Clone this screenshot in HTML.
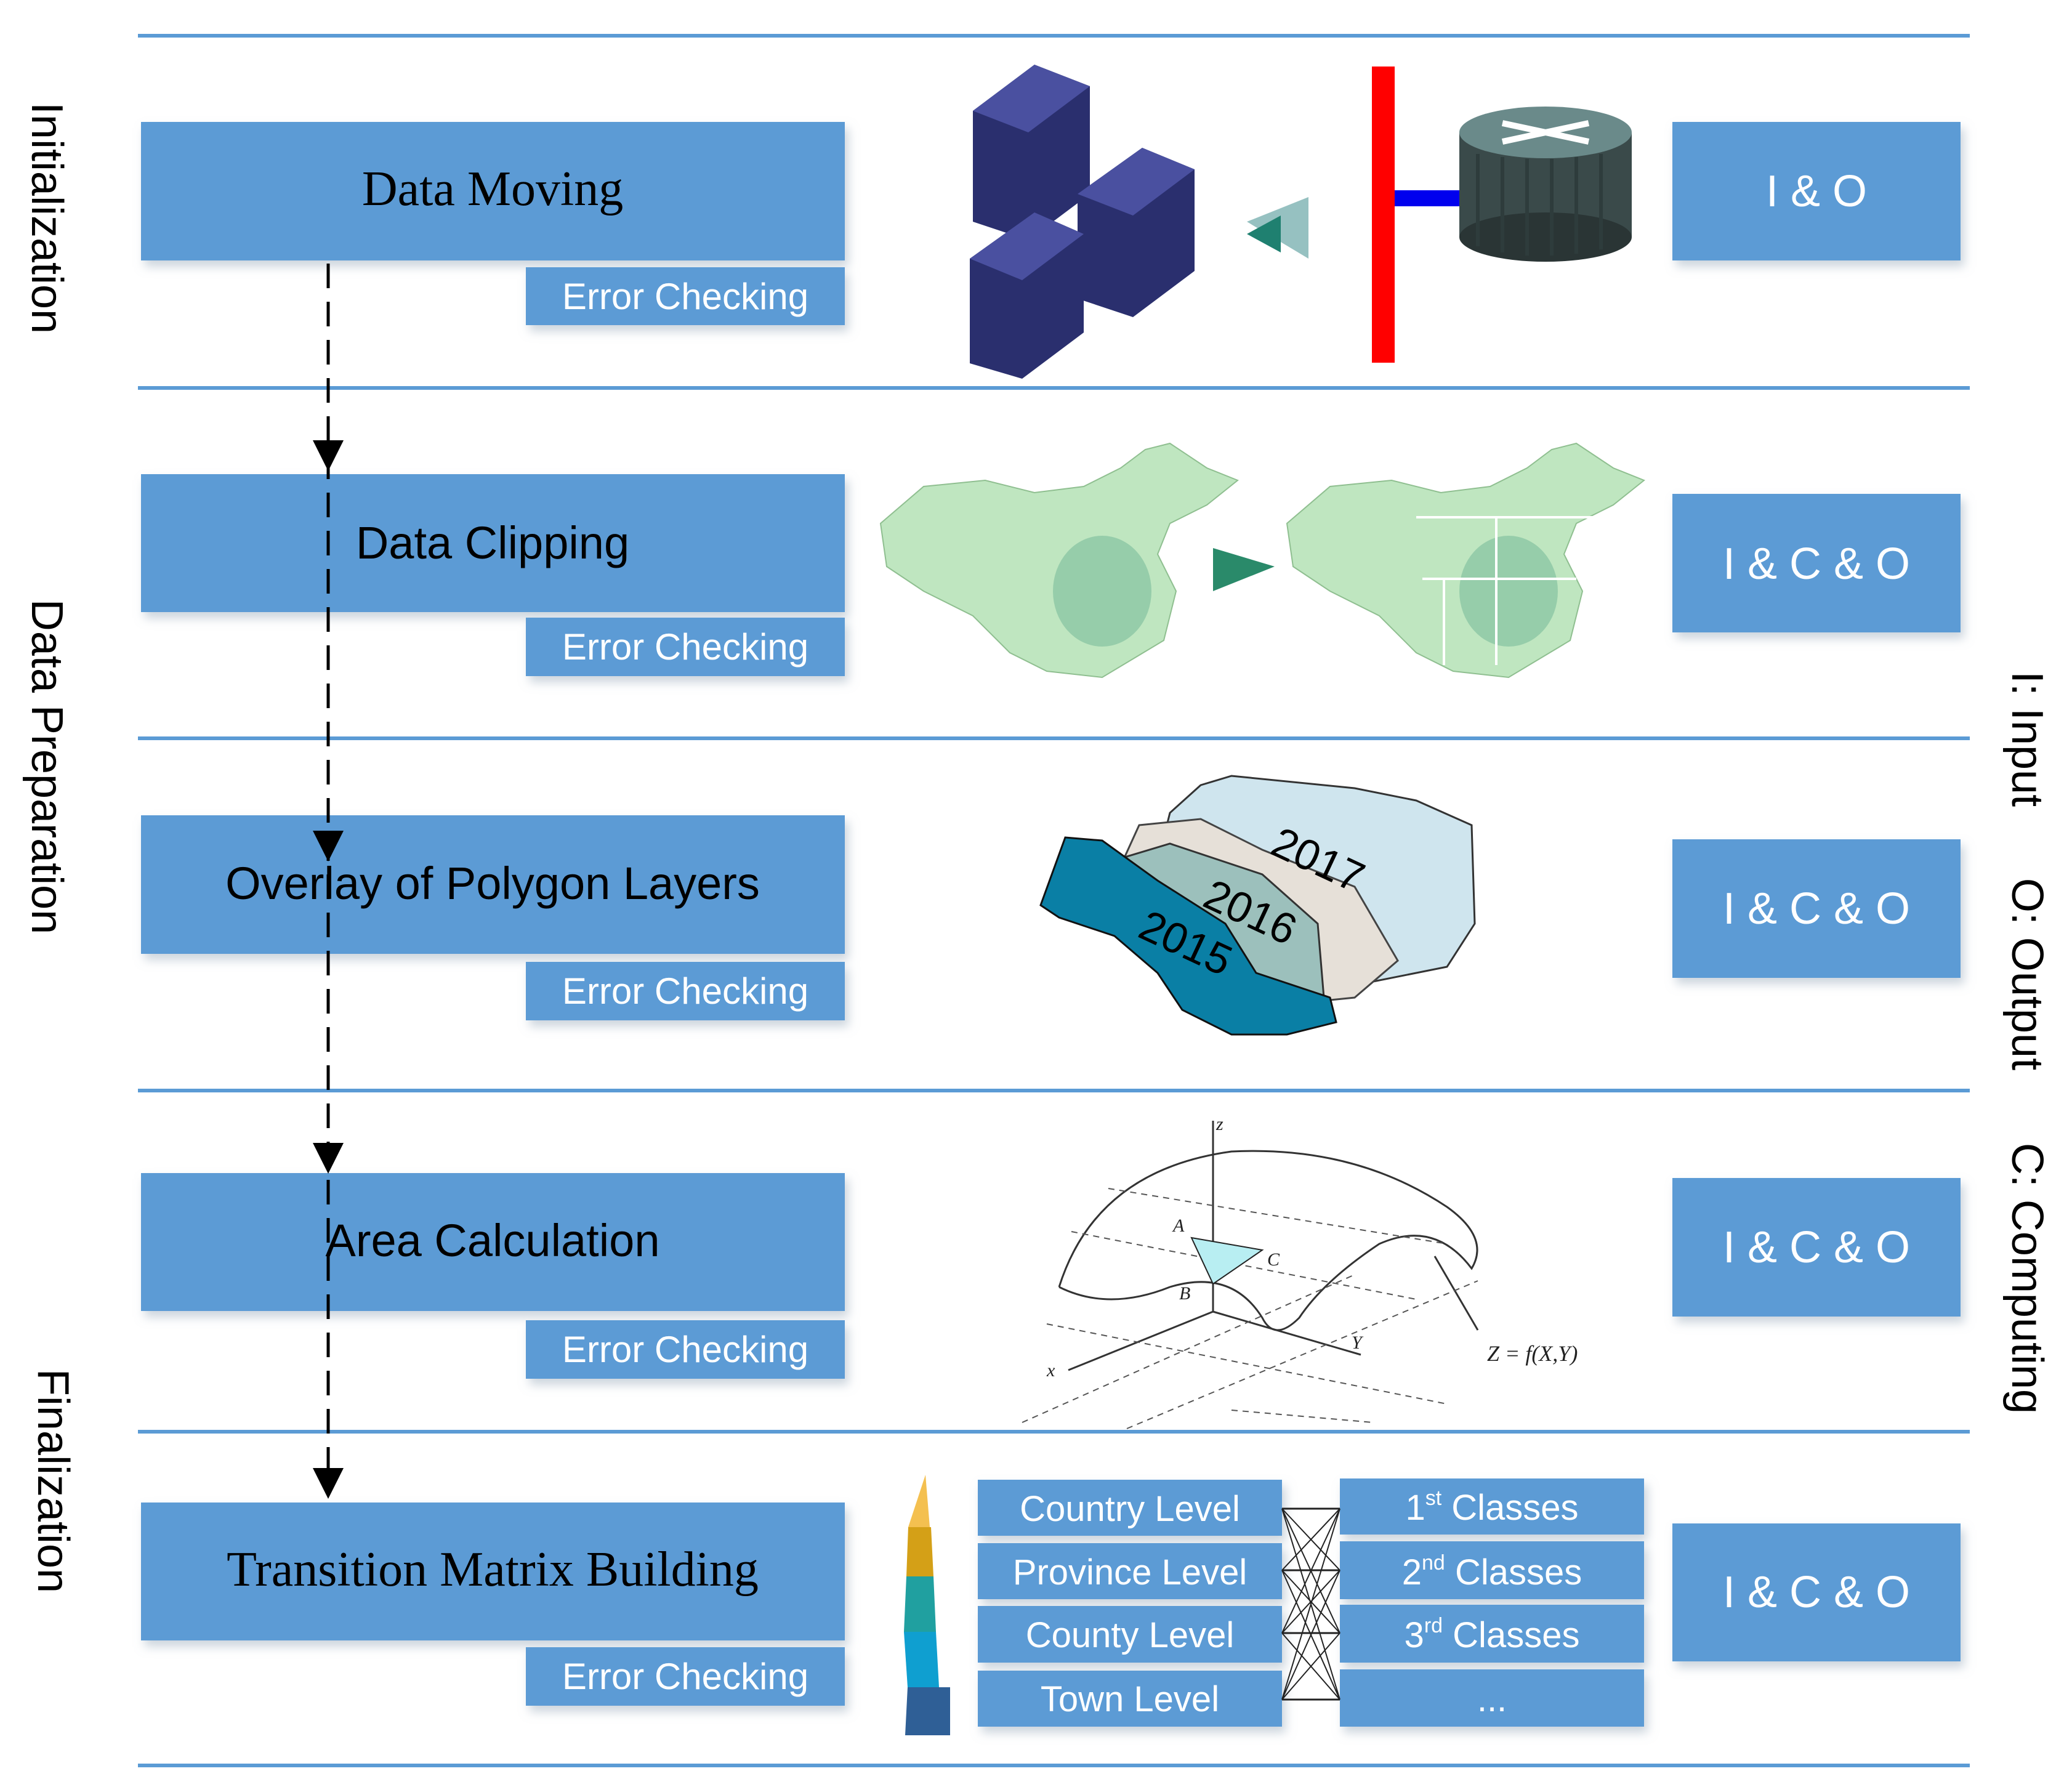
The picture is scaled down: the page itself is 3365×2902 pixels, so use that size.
<!DOCTYPE html>
<html><head><meta charset="utf-8"><style>
html,body{margin:0;padding:0;background:#fff}
svg{display:block}
.box{fill:#5b9bd5}
.t{font-family:"Liberation Sans",sans-serif;fill:#000}
.w{font-family:"Liberation Sans",sans-serif;fill:#fff}
</style></head><body>
<svg width="3365" height="2902" viewBox="0 0 3365 2902" xmlns="http://www.w3.org/2000/svg">
<defs>
<filter id="sh" x="-5%" y="-10%" width="115%" height="140%"><feDropShadow dx="6" dy="10" stdDeviation="8" flood-color="#9ab" flood-opacity="0.5"/></filter>
</defs>
<g stroke="#5b9bd5" stroke-width="6">
<line x1="224" y1="58" x2="3199" y2="58"/><line x1="224" y1="630" x2="3199" y2="630"/>
<line x1="224" y1="1199" x2="3199" y2="1199"/><line x1="224" y1="1771" x2="3199" y2="1771"/>
<line x1="224" y1="2325" x2="3199" y2="2325"/><line x1="224" y1="2867" x2="3199" y2="2867"/>
</g>
<g class="t" font-size="72" text-anchor="middle">
<text transform="translate(52,354) rotate(90)">Initialization</text>
<text transform="translate(52,1245) rotate(90)">Data Preparation</text>
<text transform="translate(62,2405) rotate(90)">Finalization</text>
<text transform="translate(3268,1200) rotate(90)">I: Input</text>
<text transform="translate(3268,1582) rotate(90)">O: Output</text>
<text transform="translate(3268,2076) rotate(90)">C: Computing</text>
</g>
<g filter="url(#sh)">
<rect class="box" x="229" y="198" width="1143" height="225"/>
<rect class="box" x="229" y="770" width="1143" height="224"/>
<rect class="box" x="229" y="1324" width="1143" height="225"/>
<rect class="box" x="229" y="1905" width="1143" height="224"/>
<rect class="box" x="229" y="2440" width="1143" height="224"/>
<rect class="box" x="854" y="434" width="518" height="94"/>
<rect class="box" x="854" y="1003" width="518" height="95"/>
<rect class="box" x="854" y="1562" width="518" height="95"/>
<rect class="box" x="854" y="2144" width="518" height="95"/>
<rect class="box" x="854" y="2675" width="518" height="95"/>
<rect class="box" x="2716" y="198" width="468" height="225"/>
<rect class="box" x="2716" y="802" width="468" height="225"/>
<rect class="box" x="2716" y="1363" width="468" height="225"/>
<rect class="box" x="2716" y="1913" width="468" height="225"/>
<rect class="box" x="2716" y="2474" width="468" height="224"/>
<rect class="box" x="1588" y="2403" width="494" height="91"/>
<rect class="box" x="1588" y="2506" width="494" height="91"/>
<rect class="box" x="1588" y="2608" width="494" height="92"/>
<rect class="box" x="1588" y="2713" width="494" height="91"/>
<rect class="box" x="2176" y="2401" width="494" height="91"/>
<rect class="box" x="2176" y="2503" width="494" height="94"/>
<rect class="box" x="2176" y="2606" width="494" height="94"/>
<rect class="box" x="2176" y="2711" width="494" height="93"/>
</g>
<g class="t" font-size="74" text-anchor="middle">
<text x="800" y="333" font-family="Liberation Serif,serif" font-size="80">Data Moving</text>
<text x="800" y="907">Data Clipping</text>
<text x="800" y="1460">Overlay of Polygon Layers</text>
<text x="800" y="2040">Area Calculation</text>
<text x="800" y="2575" font-family="Liberation Serif,serif" font-size="80">Transition Matrix Building</text>
</g>
<g class="w" font-size="60" text-anchor="middle">
<text x="1113" y="502">Error Checking</text><text x="1113" y="1071">Error Checking</text>
<text x="1113" y="1630">Error Checking</text><text x="1113" y="2212">Error Checking</text>
<text x="1113" y="2743">Error Checking</text>
</g>
<g class="w" font-size="72" text-anchor="middle">
<text x="2950" y="335">I &amp; O</text><text x="2950" y="940">I &amp; C &amp; O</text>
<text x="2950" y="1500">I &amp; C &amp; O</text><text x="2950" y="2050">I &amp; C &amp; O</text>
<text x="2950" y="2610">I &amp; C &amp; O</text>
</g>
<g class="w" font-size="58" text-anchor="middle">
<text x="1835" y="2470">Country Level</text><text x="1835" y="2573">Province Level</text>
<text x="1835" y="2675">County Level</text><text x="1835" y="2779">Town Level</text>
<text x="2423" y="2468">1<tspan font-size="34" dy="-24">st</tspan><tspan dy="24"> Classes</tspan></text>
<text x="2423" y="2573">2<tspan font-size="34" dy="-24">nd</tspan><tspan dy="24"> Classes</tspan></text>
<text x="2423" y="2675">3<tspan font-size="34" dy="-24">rd</tspan><tspan dy="24"> Classes</tspan></text>
<text x="2423" y="2779">...</text>
</g>
<line x1="533" y1="428" x2="533" y2="2400" stroke="#000" stroke-width="5" stroke-dasharray="40,22"/>
<g fill="#000">
<path d="M508,715 L558,715 L533,765 z"/><path d="M508,1349 L558,1349 L533,1399 z"/>
<path d="M508,1856 L558,1856 L533,1906 z"/><path d="M508,2384 L558,2384 L533,2434 z"/>
</g>
<g stroke="#222" stroke-width="3" fill="none">
<line x1="2082" y1="2450" x2="2176" y2="2450"/><line x1="2082" y1="2550" x2="2176" y2="2550"/>
<line x1="2082" y1="2652" x2="2176" y2="2652"/><line x1="2082" y1="2760" x2="2176" y2="2760"/>
<path d="M2082,2450 L2176,2550 M2082,2450 L2176,2652 M2082,2450 L2176,2760 M2082,2550 L2176,2450 M2082,2550 L2176,2652 M2082,2550 L2176,2760 M2082,2652 L2176,2450 M2082,2652 L2176,2550 M2082,2652 L2176,2760 M2082,2760 L2176,2450 M2082,2760 L2176,2550 M2082,2760 L2176,2652" stroke-width="2"/>
</g>
<polygon points="1503,2395 1510,2480 1475,2480" fill="#f4c050"/>
<polygon points="1475,2480 1512,2480 1516,2560 1472,2560" fill="#d4a017"/>
<polygon points="1472,2560 1516,2560 1520,2650 1468,2650" fill="#20a0a0"/>
<polygon points="1468,2650 1520,2650 1525,2740 1474,2740" fill="#0f9fd0"/>
<polygon points="1474,2740 1525,2740 1543,2740 1543,2818 1470,2818" fill="#2f5f96"/>
<g>
<polygon points="1580,180 1680,105 1770,140 1770,315 1670,390 1580,360" fill="#2a2f6e"/>
<polygon points="1580,180 1680,105 1770,140 1670,215" fill="#4a50a0"/>
<polygon points="1750,315 1855,240 1940,275 1940,440 1840,515 1750,485" fill="#2a2f6e"/>
<polygon points="1750,315 1855,240 1940,275 1840,350" fill="#4a50a0"/>
<polygon points="1575,420 1680,345 1760,380 1760,540 1660,615 1575,590" fill="#2a2f6e"/>
<polygon points="1575,420 1680,345 1760,380 1660,455" fill="#4a50a0"/>
</g>
<polygon points="2025,360 2125,320 2125,420" fill="#6aa6a6" opacity="0.7"/>
<path d="M2025,380 L2080,350 L2080,410 z" fill="#1f8070"/>
<rect x="2228" y="108" width="37" height="481" fill="#ff0000"/>
<rect x="2265" y="309" width="105" height="26" fill="#0000ee"/>
<rect x="2370" y="215" width="280" height="170" fill="#3a4a4a"/>
<ellipse cx="2510" cy="385" rx="140" ry="40" fill="#2a3535"/>
<ellipse cx="2510" cy="215" rx="140" ry="42" fill="#6a8a8a"/>
<g stroke="#2e3c3c" stroke-width="6">
<line x1="2400" y1="250" x2="2400" y2="400"/><line x1="2440" y1="255" x2="2440" y2="410"/><line x1="2480" y1="258" x2="2480" y2="415"/>
<line x1="2520" y1="258" x2="2520" y2="415"/><line x1="2560" y1="255" x2="2560" y2="412"/><line x1="2600" y1="250" x2="2600" y2="405"/>
</g>
<path d="M2440,200 L2580,230 M2440,230 L2580,200" stroke="#fff" stroke-width="10"/>
<g fill="#bfe6c0" stroke="#8fbf90" stroke-width="2">
<path d="M1430,850 L1500,790 L1600,780 L1680,800 L1760,790 L1820,760 L1860,730 L1900,720 L1960,760 L2010,780 L1960,820 L1900,850 L1880,900 L1910,960 L1890,1040 L1840,1070 L1790,1100 L1700,1090 L1640,1060 L1580,1000 L1500,960 L1440,920 z"/>
<path d="M2090,850 L2160,790 L2260,780 L2340,800 L2420,790 L2480,760 L2520,730 L2560,720 L2620,760 L2670,780 L2620,820 L2560,850 L2540,900 L2570,960 L2550,1040 L2500,1070 L2450,1100 L2360,1090 L2300,1060 L2240,1000 L2160,960 L2100,920 z"/>
</g>
<g fill="#5aa88a" opacity="0.4"><ellipse cx="1790" cy="960" rx="80" ry="90"/><ellipse cx="2450" cy="960" rx="80" ry="90"/></g>
<g stroke="#fff" stroke-width="4"><line x1="2300" y1="840" x2="2660" y2="840"/><line x1="2430" y1="840" x2="2430" y2="1080"/><line x1="2310" y1="940" x2="2560" y2="940"/><line x1="2345" y1="940" x2="2345" y2="1080"/></g>
<path d="M1970,890 L2070,920 L1970,960 z" fill="#2a8a6a"/>
<path d="M1950,1275 L2000,1260 L2200,1280 L2300,1300 L2390,1340 L2395,1500 L2350,1570 L2200,1600 L2080,1610 L1950,1520 L1880,1400 L1900,1320 z" fill="#cfe5ee" stroke="#333" stroke-width="3"/>
<path d="M1850,1340 L1950,1330 L2050,1380 L2200,1440 L2270,1560 L2200,1620 L2000,1640 L1880,1560 L1800,1450 z" fill="#e6e0d8" stroke="#444" stroke-width="3"/>
<path d="M1800,1400 L1900,1370 L2050,1420 L2140,1500 L2150,1620 L2060,1650 L1950,1610 L1840,1520 z" fill="#9cc0bc" stroke="#333" stroke-width="3"/>
<path d="M1730,1360 L1790,1365 L1880,1430 L1990,1500 L2040,1580 L2160,1620 L2170,1660 L2090,1680 L2000,1680 L1920,1640 L1880,1580 L1810,1520 L1720,1490 L1690,1470 z" fill="#0a7fa5" stroke="#111" stroke-width="3"/>
<g class="t" font-size="70">
<text transform="translate(2060,1385) rotate(25)">2017</text>
<text transform="translate(1950,1470) rotate(25)">2016</text>
<text transform="translate(1845,1520) rotate(25)">2015</text>
</g>
<g fill="none" stroke="#333" stroke-width="3">
<line x1="1970" y1="2130" x2="1970" y2="1820"/><line x1="1970" y1="2130" x2="1735" y2="2225"/><line x1="1970" y1="2130" x2="2210" y2="2200"/>
<path d="M1720,2090 Q1780,1900 2000,1870 Q2200,1860 2350,1960 Q2420,2010 2390,2060 Q2330,1980 2240,2020 Q2150,2080 2110,2140 Q2070,2180 2050,2140 Q2000,2060 1900,2090 Q1800,2130 1720,2090"/>
<line x1="2330" y1="2040" x2="2400" y2="2160"/>
</g>
<g fill="none" stroke="#555" stroke-width="2" stroke-dasharray="10,8">
<line x1="1700" y1="2150" x2="2350" y2="2280"/><line x1="1660" y1="2310" x2="2200" y2="2070"/><line x1="1830" y1="2320" x2="2400" y2="2080"/>
<line x1="1740" y1="2000" x2="2300" y2="2110"/><line x1="1800" y1="1930" x2="2350" y2="2020"/><line x1="2000" y1="2290" x2="2230" y2="2310"/>
</g>
<polygon points="1935,2010 2050,2030 1970,2085" fill="#b8eef2" stroke="#222" stroke-width="2"/>
<g font-family="Liberation Serif,serif" font-style="italic" font-size="30" fill="#222">
<text x="1905" y="2000">A</text><text x="1915" y="2110">B</text><text x="2058" y="2055">C</text><text x="1975" y="1835">z</text>
<text x="1700" y="2235">x</text><text x="2195" y="2190">Y</text><text x="2415" y="2210" font-size="36">Z = f(X,Y)</text>
</g>
</svg>
</body></html>
